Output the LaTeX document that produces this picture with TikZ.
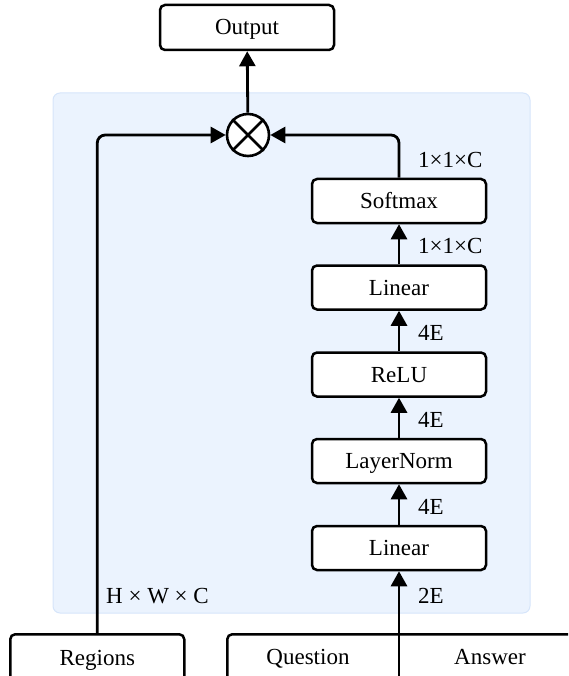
\documentclass[tikz,border=0pt]{standalone}
\usepackage{fontspec}
\setmainfont{Liberation Serif}
\usetikzlibrary{arrows.meta}
\definecolor{panel}{RGB}{235,243,254}
\definecolor{panelline}{RGB}{214,229,250}
\begin{document}
\begin{tikzpicture}[x=1pt,y=-1pt,
  every node/.style={font=\fontsize{23}{27}\selectfont, inner sep=0pt,
                     text height=16pt, text depth=1pt},
  blk/.style={draw, line width=2.5pt, rounded corners=5pt, fill=white,
              minimum width=174pt, minimum height=44pt},
  flow/.style={line width=2.8pt, -{Triangle[length=15pt,width=16pt]}},
  dimlbl/.style={anchor=west}
]
\useasboundingbox (0,0) rectangle (568,676);
\clip (0,0) rectangle (568,676);

% attention panel
\fill[fill=panel, draw=panelline, line width=1pt, rounded corners=7pt]
  (53,93) rectangle (530,613);

% output and fusion
\node[blk, minimum height=45pt] (out) at (247,27.5) {Output};
\node[draw, circle, line width=2.6pt, fill=white, minimum size=42pt,
      text height=0pt, text depth=0pt] (mul) at (248,135) {};
\draw[line width=2.6pt] (mul.north west) -- (mul.south east)
                        (mul.north east) -- (mul.south west);

% attention branch
\node[blk] (sm)   at (399,201)   {Softmax};
\node[blk] (lin2) at (399,287.5) {Linear};
\node[blk] (relu) at (399,374.5) {ReLU};
\node[blk] (ln)   at (399,461)   {LayerNorm};
\node[blk] (lin1) at (399,548)   {Linear};

% inputs
\node[blk, minimum height=48pt, anchor=north west] (reg) at (9,633) {Regions};
\node[draw, line width=2.5pt, rounded corners=5pt, fill=white,
      minimum width=380pt, minimum height=48pt, anchor=north west] (qa) at (226,633) {};
\node (q) at (308,657) {Question};
\node (a) at (490,657) {Answer};
\coordinate (qbot) at (399,690);

% connectors
\draw[flow] (mul) -- (out);
\draw[flow, rounded corners=8pt] (reg.north) |- (mul.west);
\draw[flow, rounded corners=8pt] (sm.north) |- (mul.east);
\draw[flow] (lin2) -- (sm);
\draw[flow] (relu) -- (lin2);
\draw[flow] (ln) -- (relu);
\draw[flow] (lin1) -- (ln);
\draw[flow] (qbot) -- (lin1.south);

% tensor sizes
\node[dimlbl] (d1) at (418,160) {1×1×C};
\node[dimlbl] (d2) at (418,246) {1×1×C};
\node[dimlbl] (d3) at (418,333) {4E};
\node[dimlbl] (d4) at (418,420) {4E};
\node[dimlbl] (d5) at (418,507) {4E};
\node[dimlbl] (d6) at (418,596) {2E};
\node[dimlbl] (d7) at (106,596) {H × W × C};
\end{tikzpicture}
\end{document}
